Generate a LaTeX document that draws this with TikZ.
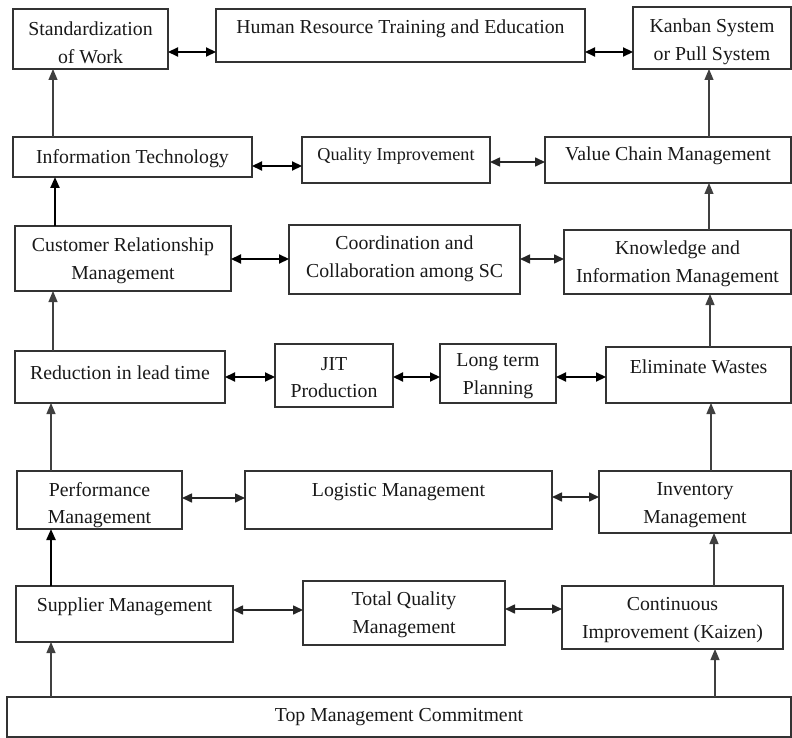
\documentclass[tikz,border=0pt]{standalone}
\usepackage{fontspec}
\setmainfont{Liberation Serif}
\usetikzlibrary{arrows.meta}
\tikzset{
  box/.style={draw=black!80, line width=1.1pt, inner sep=0pt, outer sep=0pt, anchor=north west},
  lbl/.style={align=center, font=\fontsize{19.8}{27.5}\selectfont, inner sep=0pt, text=black!90},
  up/.style={-{Triangle[length=11pt,width=9pt]}, line width=1.1pt, draw=black!75},
  upthick/.style={up, line width=2.2pt, draw=black},
  both/.style={{Triangle[length=10pt,width=9pt]}-{Triangle[length=10pt,width=9pt]}, line width=1.6pt, draw=black!85},
  boththick/.style={both, line width=2.2pt, draw=black},
}
% name, left, top, right, bottom, text middle, text
\newcommand\mkbox[7]{%
  \node[box, minimum width={(#4-#2)*1pt}, minimum height={(#5-#3)*1pt}] (#1) at (#2,#3) {};
  \node[lbl] (#1-t) at ({(#2+#4)/2},{#6+2}) {#7};
}
\begin{document}
\begin{tikzpicture}[x=1pt,y=-1pt]
\useasboundingbox (0,0) rectangle (792,738);

% boxes
\mkbox{std}{13}{9}{168}{69}{41}{Standardization\\of Work}
\mkbox{hr}{216}{9}{585}{62}{27}{Human Resource Training and Education}
\mkbox{kan}{633}{7}{791}{69}{40}{Kanban System\\or Pull System}
\mkbox{it}{13}{137}{252}{177}{157}{Information Technology}
\mkbox{qi}{302}{137}{490}{183}{154}{\fontsize{18.2}{25}\selectfont Quality Improvement}
\mkbox{vc}{545}{137}{791}{183}{154}{Value Chain Management}
\mkbox{crm}{15}{226}{231}{291}{259}{Customer Relationship\\Management}
\mkbox{coord}{289}{225}{520}{294}{257}{Coordination and\\Collaboration among SC}
\mkbox{know}{564}{230}{791}{294}{262}{Knowledge and\\Information Management}
\mkbox{red}{15}{351}{225}{403}{371}{Reduction in lead time}
\mkbox{jit}{275}{344}{393}{407}{375.5}{JIT\\Production}
\mkbox{ltp}{440}{344}{556}{403}{374}{Long term\\Planning}
\mkbox{ew}{606}{347}{791}{403}{365}{Eliminate Wastes}
\mkbox{perf}{17}{471}{182}{529}{503}{Performance\\Management}
\mkbox{log}{245}{471}{552}{529}{490}{Logistic Management}
\mkbox{inv}{599}{471}{791}{533}{503}{Inventory\\Management}
\mkbox{sup}{16}{586}{233}{642}{605}{Supplier Management}
\mkbox{tqm}{303}{581}{505}{645}{613}{Total Quality\\Management}
\mkbox{ci}{562}{586}{783}{649}{618}{Continuous\\Improvement (Kaizen)}
\mkbox{top}{7}{697}{791}{737}{715}{Top Management Commitment}

% upward flow, left column
\draw[up]      (top.north -| 51,0) -- (sup.south -| 51,0);
\draw[upthick] (sup.north -| 51,0) -- (perf.south -| 51,0);
\draw[up]      (perf.north -| 51,0) -- (red.south -| 51,0);
\draw[up]      (red.north -| 53,0) -- (crm.south -| 53,0);
\draw[upthick] (crm.north -| 55,0) -- (it.south -| 55,0);
\draw[up]      (it.north -| 53,0) -- (std.south -| 53,0);

% upward flow, right column
\draw[up] (top.north -| 715,0) -- (ci.south -| 715,0);
\draw[up] (ci.north -| 714,0) -- (inv.south -| 714,0);
\draw[up] (inv.north -| 711,0) -- (ew.south -| 711,0);
\draw[up] (ew.north -| 710,0) -- (know.south -| 710,0);
\draw[up] (know.north -| 709,0) -- (vc.south -| 709,0);
\draw[up] (vc.north -| 709,0) -- (kan.south -| 709,0);

% links within each row
\draw[boththick] (std.east |- 0,52) -- (hr.west |- 0,52);
\draw[boththick] (hr.east |- 0,52) -- (kan.west |- 0,52);
\draw[boththick] (it.east |- 0,166) -- (qi.west |- 0,166);
\draw[both]      (qi.east |- 0,162) -- (vc.west |- 0,162);
\draw[boththick] (crm.east |- 0,259) -- (coord.west |- 0,259);
\draw[both]      (coord.east |- 0,259) -- (know.west |- 0,259);
\draw[boththick] (red.east |- 0,377) -- (jit.west |- 0,377);
\draw[boththick] (jit.east |- 0,377) -- (ltp.west |- 0,377);
\draw[boththick] (ltp.east |- 0,377) -- (ew.west |- 0,377);
\draw[both]      (perf.east |- 0,498) -- (log.west |- 0,498);
\draw[both]      (log.east |- 0,497) -- (inv.west |- 0,497);
\draw[both]      (sup.east |- 0,610) -- (tqm.west |- 0,610);
\draw[both]      (tqm.east |- 0,609) -- (ci.west |- 0,609);
\end{tikzpicture}
\end{document}
